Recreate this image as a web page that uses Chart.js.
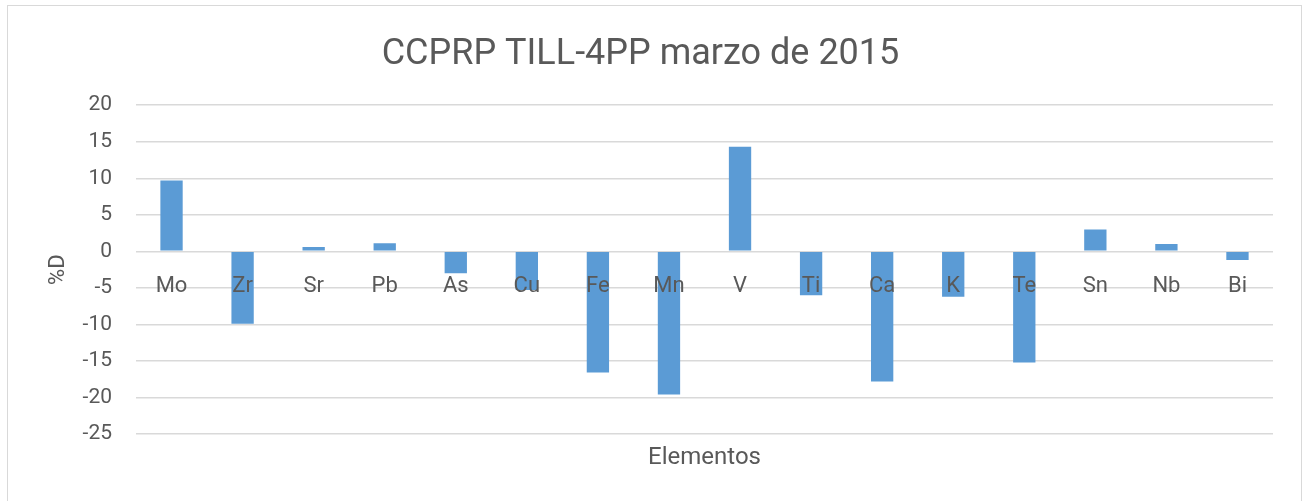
<!DOCTYPE html>
<html>
<head>
<meta charset="utf-8">
<script src="https://cdn.jsdelivr.net/npm/chart.js@4.4.1/dist/chart.umd.min.js"></script>
<style>
  html, body { margin: 0; padding: 0; background: #ffffff; }
  #wrap { position: relative; width: 1302px; height: 501px; }
  canvas { display: block; }
</style>
</head>
<body>
<div id="wrap"><canvas id="chart" width="1302" height="501"></canvas></div>
<script>
// Elements measured and their percent deviation (%D)
const elementos = ['Mo', 'Zr', 'Sr', 'Pb', 'As', 'Cu', 'Fe', 'Mn', 'V', 'Ti', 'Ca', 'K', 'Te', 'Sn', 'Nb', 'Bi'];
const desviacion = [9.7, -9.9, 0.6, 1.1, -3.0, -5.3, -16.6, -19.6, 14.3, -6.0, -17.8, -6.2, -15.2, 3.0, 1.0, -1.2];

const titulo = 'CCPRP TILL-4PP marzo de 2015';
const tituloX = 'Elementos';
const tituloY = '%D';
const yMin = -25, yMax = 20, yPaso = 5;

const FONT = "'Liberation Sans Narrow', 'Arial Narrow', 'Roboto', sans-serif";
const TEXT = '#595959';
const GRID = '#d9d9d9';

// Outer frame around the whole chart
const frame = {
  id: 'frame',
  beforeDraw(chart) {
    const ctx = chart.ctx;
    ctx.save();
    ctx.strokeStyle = GRID;
    ctx.lineWidth = 1;
    ctx.strokeRect(7.5, 5.5, 1294, 600);
    ctx.restore();
  }
};

new Chart(document.getElementById('chart'), {
  type: 'bar',
  data: {
    labels: elementos,
    datasets: [{
      data: desviacion,
      backgroundColor: '#5B9BD5',
      borderWidth: 0,
      barPercentage: 0.314,
      categoryPercentage: 1.0,
      xAxisID: 'x'
    }]
  },
  plugins: [frame],
  options: {
    responsive: false,
    animation: false,
    layout: { padding: { left: 8, right: 29, top: 0, bottom: 22 } },
    plugins: {
      legend: { display: false },
      tooltip: { enabled: false },
      title: {
        display: true,
        text: titulo,
        color: TEXT,
        font: { family: FONT, size: 36, weight: 'normal', lineHeight: 1.2 },
        padding: { top: 33, bottom: 29 }
      }
    },
    scales: {
      y: {
        min: yMin,
        max: yMax,
        ticks: {
          stepSize: yPaso,
          color: TEXT,
          padding: 24,
          font: { family: FONT, size: 21 }
        },
        grid: { color: GRID, lineWidth: 1.5, drawTicks: false },
        border: { display: false },
        title: {
          display: true,
          text: tituloY,
          color: TEXT,
          font: { family: FONT, size: 22, lineHeight: 1.2 },
          padding: { top: 37, bottom: 0 }
        },
        afterFit(scale) { scale.width = 128; }
      },
      x: {
        type: 'category',
        position: { y: 0 },
        grid: { display: false, drawTicks: false },
        border: { display: false },
        ticks: {
          z: 1,
          color: TEXT,
          padding: 22,
          maxRotation: 0,
          autoSkip: false,
          font: { family: FONT, size: 22 }
        }
      },
      x2: {
        type: 'category',
        position: 'bottom',
        grid: { display: false, drawTicks: false },
        border: { display: false },
        ticks: { display: false },
        title: {
          display: true,
          text: tituloX,
          color: TEXT,
          font: { family: FONT, size: 24, lineHeight: 1.2 },
          padding: { top: 0, bottom: 7 }
        },
        afterFit(scale) { scale.height = 45; }
      }
    }
  }
});
</script>
</body>
</html>
